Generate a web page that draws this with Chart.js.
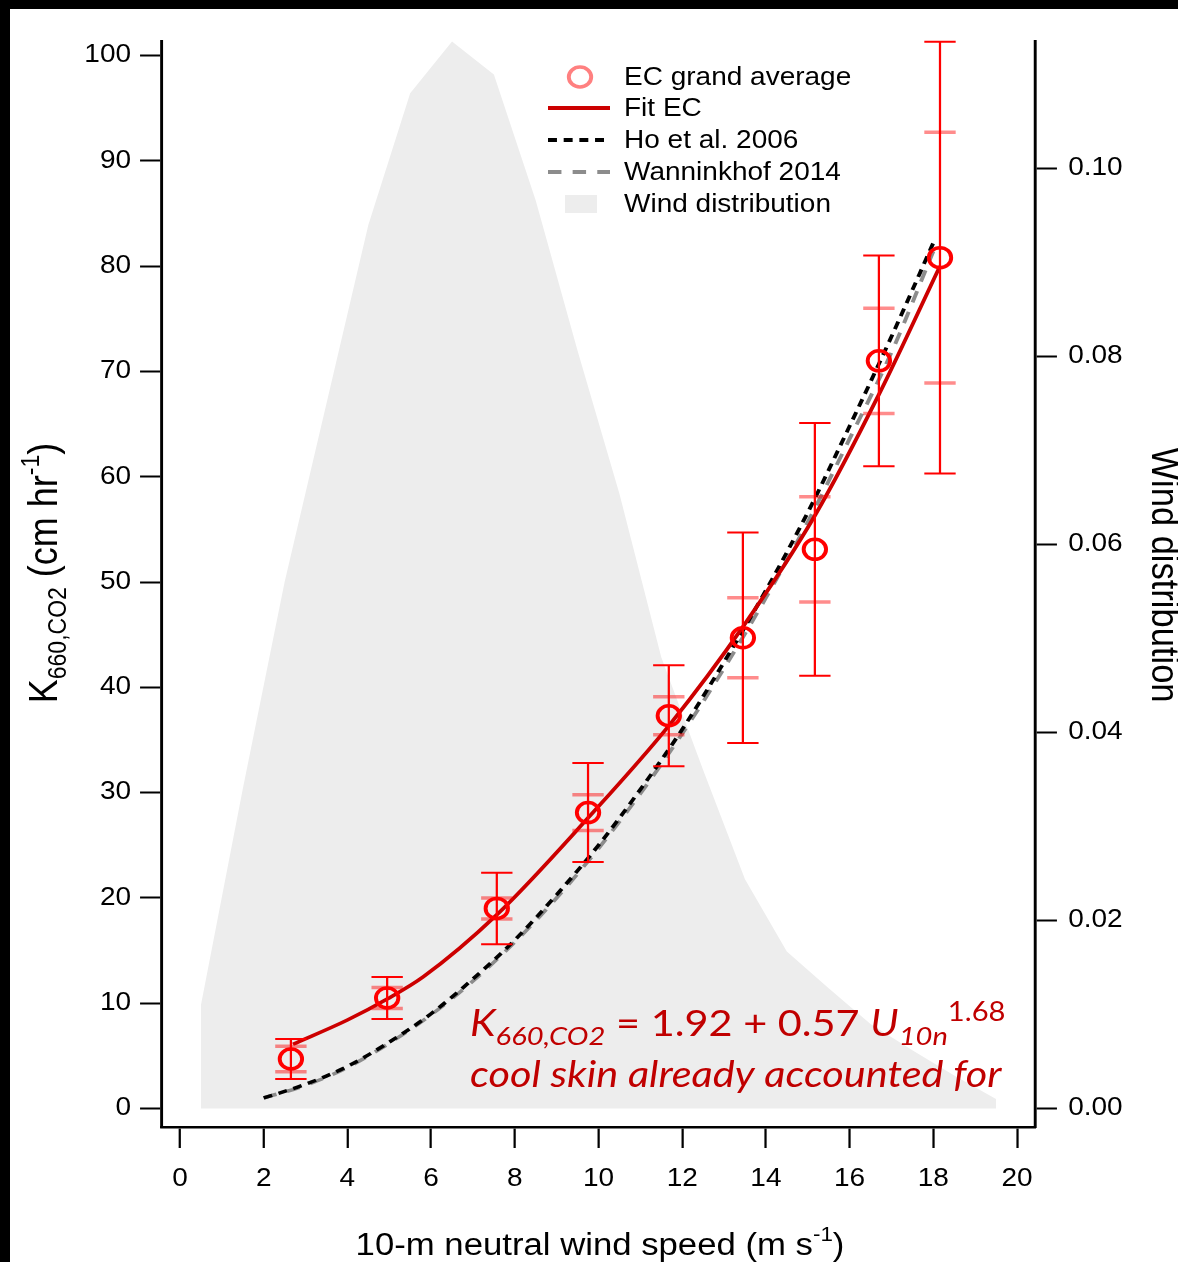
<!DOCTYPE html>
<html>
<head>
<meta charset="utf-8">
<script src="https://cdn.jsdelivr.net/npm/chart.js@4.4.1/dist/chart.umd.min.js"></script>
<style>
  html, body { margin: 0; padding: 0; background: #fff; }
  #wrap { width: 1178px; height: 1262px; }
</style>
</head>
<body>
<div id="wrap"><canvas id="kChart" width="1178" height="1262"></canvas></div>
<script>
// ==================== Data ====================
const xTicks = [0, 2, 4, 6, 8, 10, 12, 14, 16, 18, 20];
const kTicks = [0, 10, 20, 30, 40, 50, 60, 70, 80, 90, 100];
const windTicks = [0, 0.02, 0.04, 0.06, 0.08, 0.10];

// EC grand average per wind bin (outer bar = spread, inner bar = error of mean)
const ecWind = [2.65, 4.95, 7.57, 9.75, 11.68, 13.45, 15.17, 16.70, 18.16];
const ecK    = [4.7, 10.5, 19.0, 28.1, 37.3, 44.7, 53.1, 71.0, 80.8];
const ecStd  = [1.9, 2.0, 3.4, 4.7, 4.8, 10.0, 12.0, 10.0, 20.5];
const ecSe   = [1.2, 1.0, 1.0, 1.7, 1.8, 3.8, 5.0, 5.0, 11.9];

// fitted curve through the EC bins
const fitWind = [2.7, 4.0, 4.95, 5.81, 7.57, 9.75, 11.71, 13.46, 15.17, 16.70, 18.16];
const fitK    = [6.1, 8.4, 10.4, 12.5, 18.4, 27.6, 36.5, 45.8, 56.3, 67.8, 80.0];

// parameterisations
const hoWind = [2, 3, 4, 5, 6, 7, 8, 9, 10, 11, 12, 13, 14, 15, 16, 17, 18];
const hoK    = [1.0, 2.3, 4.0, 6.3, 9.0, 12.3, 16.0, 20.3, 25.0, 30.3, 36.0, 42.4, 49.2, 56.6, 64.8, 73.3, 82.2];
const wannWind = [2, 3, 4, 5, 6, 7, 8, 9, 10, 11, 12, 13, 14, 15, 16, 17, 18];
const wannK    = [1.0, 2.2, 3.9, 6.2, 8.9, 12.1, 15.8, 20.0, 24.7, 29.9, 35.6, 41.8, 48.5, 55.7, 63.6, 71.8, 81.4];

// wind speed distribution (fraction per 1 m/s bin)
const distWind = [0.5, 1.5, 2.5, 3.5, 4.5, 5.5, 6.5, 7.5, 8.5, 9.5, 10.5, 11.5, 12.5, 13.5, 14.5, 15.5, 16.5, 17.5, 18.5, 19.5];
const distFrac = [0.011, 0.034, 0.056, 0.075, 0.094, 0.108, 0.1135, 0.110, 0.0966, 0.0806, 0.0654, 0.048, 0.036, 0.0244, 0.0167, 0.0128, 0.0090, 0.0062, 0.0035, 0.0010];

// ==================== Styles ====================
const SX = 1.12;                // whole figure is drawn a bit wider than tall
const W = 1178, H = 1262;
const plotLeft = 162 / SX, plotRight = 1035 / SX;
const plotTop = 41, plotBottom = 1127;

const sansFont = '"Liberation Sans", Arial, sans-serif';
const noteFont = 'Lato, "Open Sans", sans-serif';
const RED = '#ff0000', FIT_RED = '#cc0000', NOTE_RED = '#c00000';
const GREY_DASH = '#8c8c8c', DIST_GREY = '#ededed';

const pts = (xs, ys) => xs.map((x, i) => ({ x: x, y: ys[i] }));

// ==================== Helpers ====================
function richWidth(ctx, parts) {
    let w = 0;
    parts.forEach(p => { ctx.font = p.font; w += ctx.measureText(p.text).width; });
    return w;
}

function drawRich(ctx, parts, x, y, center) {
    let cx = center ? x - richWidth(ctx, parts) / 2 : x;
    parts.forEach(p => {
        ctx.font = p.font;
        ctx.fillText(p.text, cx, y + (p.dy || 0));
        cx += ctx.measureText(p.text).width;
    });
}

// ==================== Plugin: frame, error bars, legend, titles ====================
const figurePlugin = {
    id: 'figure',
    beforeDraw(chart) {
        const ctx = chart.ctx;
        ctx.save();
        ctx.fillStyle = '#fff';
        ctx.fillRect(0, 0, W, H);
        ctx.fillStyle = '#000';
        ctx.fillRect(0, 0, W, 9);
        ctx.fillRect(0, 0, 10, H);
        ctx.scale(SX, 1);
    },
    beforeDatasetDraw(chart, args) {
        if (chart.data.datasets[args.index].label !== 'EC grand average') return;
        const ctx = chart.ctx;
        const xs = chart.scales.x, ys = chart.scales.y;
        const cap = 14;
        ctx.save();
        ecWind.forEach((w, i) => {
            const px = xs.getPixelForValue(w);
            const hi = ys.getPixelForValue(ecK[i] + ecStd[i]);
            const lo = ys.getPixelForValue(ecK[i] - ecStd[i]);
            ctx.strokeStyle = RED;
            ctx.lineWidth = 2;
            ctx.beginPath();
            ctx.moveTo(px, hi); ctx.lineTo(px, lo);
            ctx.moveTo(px - cap, hi); ctx.lineTo(px + cap, hi);
            ctx.moveTo(px - cap, lo); ctx.lineTo(px + cap, lo);
            ctx.stroke();
            // inner caps
            const shi = ys.getPixelForValue(ecK[i] + ecSe[i]);
            const slo = ys.getPixelForValue(ecK[i] - ecSe[i]);
            ctx.strokeStyle = 'rgba(255, 0, 0, 0.45)';
            ctx.lineWidth = 3.5;
            ctx.beginPath();
            ctx.moveTo(px - cap, shi); ctx.lineTo(px + cap, shi);
            ctx.moveTo(px - cap, slo); ctx.lineTo(px + cap, slo);
            ctx.stroke();
        });
        ctx.restore();
    },
    afterDraw(chart) {
        const ctx = chart.ctx;
        ctx.fillStyle = '#000';
        ctx.textBaseline = 'alphabetic';
        ctx.textAlign = 'left';

        // ---- legend ----
        const lx0 = 548 / SX, lx1 = 610 / SX, tx = 624 / SX;
        ctx.lineWidth = 3.5;
        ctx.strokeStyle = '#ff8080';
        ctx.beginPath();
        ctx.arc(580 / SX, 77, 10, 0, Math.PI * 2);
        ctx.stroke();

        ctx.lineWidth = 4;
        ctx.strokeStyle = FIT_RED;
        ctx.beginPath(); ctx.moveTo(lx0, 108); ctx.lineTo(lx1, 108); ctx.stroke();

        ctx.strokeStyle = '#000';
        ctx.setLineDash([8, 6]);
        ctx.beginPath(); ctx.moveTo(lx0, 140); ctx.lineTo(lx1, 140); ctx.stroke();

        ctx.strokeStyle = GREY_DASH;
        ctx.setLineDash([12, 10]);
        ctx.beginPath(); ctx.moveTo(lx0, 172); ctx.lineTo(lx1, 172); ctx.stroke();
        ctx.setLineDash([]);

        ctx.fillStyle = DIST_GREY;
        ctx.fillRect(565 / SX, 195, 32 / SX, 18);

        ctx.fillStyle = '#000';
        ctx.font = '25px ' + sansFont;
        ctx.textBaseline = 'middle';
        ['EC grand average', 'Fit EC', 'Ho et al. 2006', 'Wanninkhof 2014', 'Wind distribution']
            .forEach((t, i) => ctx.fillText(t, tx, [78, 109, 141, 173, 205][i]));
        ctx.textBaseline = 'alphabetic';

        // ---- fit equation ----
        ctx.fillStyle = NOTE_RED;
        const big = 37, small = 26;
        drawRich(ctx, [
            { text: 'K', font: `italic ${big}px ${noteFont}` },
            { text: '660,CO2', font: `italic ${small}px ${noteFont}`, dy: 9 },
            { text: ' = 1.92 + 0.57 ', font: `${big}px ${noteFont}` },
            { text: 'U', font: `italic ${big}px ${noteFont}` },
            { text: '10n', font: `italic ${small}px ${noteFont}`, dy: 9 },
            { text: '1.68', font: `${small}px ${noteFont}`, dy: -15 }
        ], 470 / SX, 1036);
        ctx.font = `italic ${big}px ${noteFont}`;
        ctx.fillText('cool skin already accounted for', 470 / SX, 1087);

        // ---- axis titles ----
        ctx.fillStyle = '#000';
        drawRich(ctx, [
            { text: '10-m neutral wind speed (m s', font: `31px ${sansFont}` },
            { text: '-1', font: `20px ${sansFont}`, dy: -14 },
            { text: ')', font: `31px ${sansFont}` }
        ], 600 / SX, 1255, true);

        ctx.save();
        ctx.translate(57 / SX, 573);
        ctx.rotate(-Math.PI / 2);
        drawRich(ctx, [
            { text: 'K', font: `36px ${sansFont}` },
            { text: '660,CO2', font: `23px ${sansFont}`, dy: 8 },
            { text: ' (cm hr', font: `36px ${sansFont}` },
            { text: '-1', font: `23px ${sansFont}`, dy: -16 },
            { text: ')', font: `36px ${sansFont}` }
        ], 0, 0, true);
        ctx.restore();

        ctx.save();
        ctx.translate(1152 / SX, 575);
        ctx.rotate(Math.PI / 2);
        ctx.font = `34.5px ${sansFont}`;
        ctx.textAlign = 'center';
        ctx.fillText('Wind distribution', 0, 0);
        ctx.restore();

        ctx.restore(); // undo the horizontal stretch from beforeDraw
    }
};

// ==================== Chart ====================
const tickFont = { family: sansFont, size: 25 };
const axisGrid = (len) => ({ display: true, drawOnChartArea: false, drawTicks: true, tickLength: len, tickWidth: 2, tickColor: '#000' });
const axisBorder = { display: true, color: '#000', width: 2.6 };

new Chart(document.getElementById('kChart'), {
    data: {
        datasets: [
            {
                type: 'line',
                label: 'Wind distribution',
                data: pts(distWind, distFrac),
                yAxisID: 'y2',
                borderWidth: 0,
                backgroundColor: DIST_GREY,
                fill: 'origin',
                pointRadius: 0,
                tension: 0,
                order: 10
            },
            {
                type: 'line',
                label: 'Wanninkhof 2014',
                data: pts(wannWind, wannK),
                yAxisID: 'y',
                borderColor: GREY_DASH,
                borderWidth: 3.5,
                borderDash: [12, 10],
                pointRadius: 0,
                cubicInterpolationMode: 'monotone',
                fill: false,
                order: 4
            },
            {
                type: 'line',
                label: 'Ho et al. 2006',
                data: pts(hoWind, hoK),
                yAxisID: 'y',
                borderColor: '#000',
                borderWidth: 3.5,
                borderDash: [8, 6],
                pointRadius: 0,
                cubicInterpolationMode: 'monotone',
                fill: false,
                order: 3
            },
            {
                type: 'line',
                label: 'Fit EC',
                data: pts(fitWind, fitK),
                yAxisID: 'y',
                borderColor: FIT_RED,
                borderWidth: 3.5,
                pointRadius: 0,
                cubicInterpolationMode: 'monotone',
                fill: false,
                order: 2
            },
            {
                type: 'scatter',
                label: 'EC grand average',
                data: pts(ecWind, ecK),
                yAxisID: 'y',
                borderColor: RED,
                backgroundColor: 'rgba(0,0,0,0)',
                borderWidth: 3.5,
                pointRadius: 10,
                pointStyle: 'circle',
                order: 1
            }
        ]
    },
    options: {
        responsive: false,
        animation: false,
        devicePixelRatio: 1,
        layout: { autoPadding: false, padding: { top: plotTop, left: 0, right: 0, bottom: 0 } },
        plugins: { legend: { display: false }, tooltip: { enabled: false } },
        scales: {
            x: {
                type: 'linear',
                position: 'bottom',
                min: (162 - 180) / 41.85,
                max: (1035 - 180) / 41.85,
                afterBuildTicks: s => { s.ticks = xTicks.map(v => ({ value: v })); },
                afterFit: s => { s.height = H - plotBottom; },
                ticks: { font: tickFont, color: '#000', padding: 16, autoSkip: false, maxRotation: 0 },
                grid: axisGrid(21),
                border: axisBorder
            },
            y: {
                type: 'linear',
                position: 'left',
                min: (1108.5 - plotBottom) / 10.53,
                max: (1108.5 - plotTop) / 10.53,
                afterBuildTicks: s => { s.ticks = kTicks.map(v => ({ value: v })); },
                afterFit: s => { s.width = plotLeft; },
                ticks: { font: tickFont, color: '#000', padding: 8, autoSkip: false },
                grid: axisGrid(19.6),
                border: axisBorder
            },
            y2: {
                type: 'linear',
                position: 'right',
                min: (1108.5 - plotBottom) / 9400,
                max: (1108.5 - plotTop) / 9400,
                afterBuildTicks: s => { s.ticks = windTicks.map(v => ({ value: v })); },
                afterFit: s => { s.width = W - plotRight; },
                ticks: { font: tickFont, color: '#000', padding: 10, autoSkip: false, callback: v => v.toFixed(2) },
                grid: axisGrid(19.6),
                border: axisBorder
            }
        }
    },
    plugins: [figurePlugin]
});
</script>
</body>
</html>
